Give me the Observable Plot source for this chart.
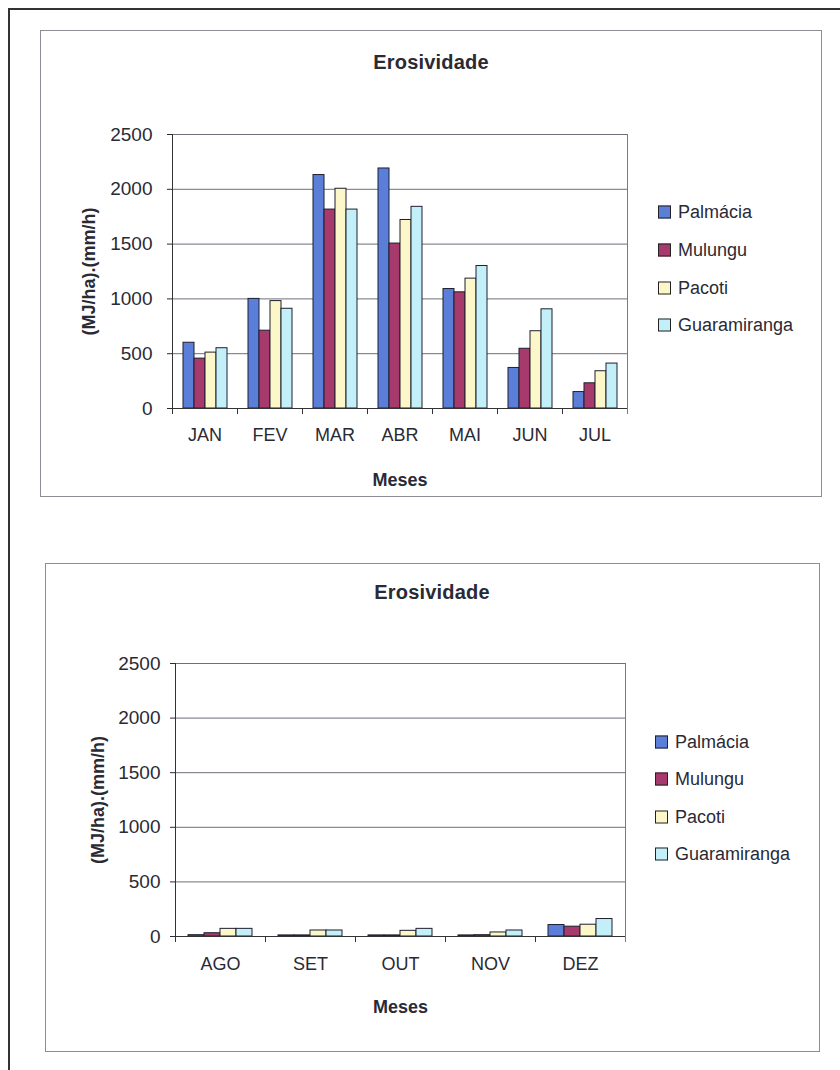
<!DOCTYPE html>
<html><head><meta charset="utf-8">
<script src="https://cdn.jsdelivr.net/npm/d3@7"></script>
<script src="https://cdn.jsdelivr.net/npm/@observablehq/plot@0.6"></script>
<style>
body{margin:0;background:#fff;}
#page{position:relative;width:840px;height:1070px;overflow:hidden;font-family:"Liberation Sans",Arial,sans-serif;color:#2a2a35;}
.outer{position:absolute;left:8px;top:8px;width:840px;height:1070px;border-left:2px solid #333;border-top:2px solid #333;}
.box{position:absolute;border:1px solid #8d8d95;box-sizing:border-box;background:#fff;}
.title{position:absolute;font-weight:bold;font-size:20px;transform:translate(-50%,-50%);white-space:nowrap;letter-spacing:0.2px;}
.legend{position:absolute;font-size:18px;}
.legend .row{position:absolute;left:0;display:flex;align-items:center;white-space:nowrap;transform:translateY(-50%);}
.legend .sw{width:11px;height:11px;border:1px solid #222;margin-right:7px;}
.plotwrap{position:absolute;}
g[aria-label="fx-axis label"], g[aria-label="y-axis label"]{font-weight:bold;font-size:18px;}
g[aria-label="y-axis tick label"]{font-size:19px;}
</style>
</head><body>
<div id="page"></div>
<script>
// ---- data ----
const series = ["Palmácia", "Mulungu", "Pacoti", "Guaramiranga"];
const colors = ["#5b7fd8", "#a63a6c", "#fcf7c9", "#c3f0f8"];
const yTicks = [0, 500, 1000, 1500, 2000, 2500];

const months1 = ["JAN", "FEV", "MAR", "ABR", "MAI", "JUN", "JUL"];
const palmacia1     = [600, 1000, 2130, 2190, 1090, 370, 150];
const mulungu1      = [455,  710, 1815, 1505, 1060, 545, 230];
const pacoti1       = [510,  980, 2005, 1720, 1185, 705, 340];
const guaramiranga1 = [550,  910, 1815, 1840, 1300, 905, 410];

const months2 = ["AGO", "SET", "OUT", "NOV", "DEZ"];
const palmacia2     = [12, 10, 10, 10, 105];
const mulungu2      = [30, 10, 10, 12,  90];
const pacoti2       = [70, 55, 52, 37, 108];
const guaramiranga2 = [70, 55, 70, 55, 160];

const chartTitle = "Erosividade";
const yLabel = "(MJ/ha).(mm/h)";
const xLabel = "Meses";

// ---- helpers ----
const page = document.getElementById("page");
function el(tag, cls, css, parent) {
  const e = document.createElement(tag);
  if (cls) e.className = cls;
  Object.assign(e.style, css || {});
  (parent || page).appendChild(e);
  return e;
}

function buildData(months, cols) {
  const rows = [];
  months.forEach((m, i) => series.forEach((s, j) => rows.push({month: m, series: s, value: cols[j][i]})));
  return rows;
}

function chart(months, cols, L) {
  const data = buildData(months, cols);
  const plotH = L.height - L.mt - L.mb;
  return Plot.plot({
    width: L.width, height: L.height,
    marginLeft: L.ml, marginRight: L.mr, marginTop: L.mt, marginBottom: L.mb,
    style: {fontFamily: '"Liberation Sans", Arial, sans-serif', fontSize: "18px", color: "#2a2a35", background: "transparent", overflow: "visible"},
    fx: {domain: months, padding: 0},
    x: {domain: series, paddingInner: 0, paddingOuter: 0.75, axis: null},
    y: {domain: [0, 2500], axis: null},
    color: {domain: series, range: colors},
    marks: [
      Plot.gridY(yTicks, {stroke: "#6e6e7c", strokeOpacity: 1}),
      Plot.frame({anchor: "right", facetAnchor: "right", stroke: "#7a7a86", insetBottom: -5}),
      Plot.frame({anchor: "left", insetTop: plotH, insetBottom: -5, stroke: "#333"}),
      Plot.barY(data, {fx: "month", x: "series", y: "value", fill: "series", stroke: "#1e1e2e", strokeWidth: 1}),
      Plot.ruleY([0], {stroke: "#333"}),
      Plot.frame({anchor: "left", facetAnchor: "left", stroke: "#333"}),
      Plot.axisY({ticks: yTicks, tickFormat: d => String(d), tickSize: 5, tickPadding: L.yPad,
        label: yLabel, labelAnchor: "center", labelArrow: "none", labelOffset: L.yLabelOffset}),
      Plot.axisFx({anchor: "bottom", tickSize: 0, tickPadding: L.fxPad, label: xLabel, labelAnchor: "center",
        labelArrow: "none", labelOffset: L.xLabelOffset})
    ]
  });
}

function legend(x, ys) {
  const lg = el("div", "legend", {left: x + "px", top: "0px"});
  series.forEach((s, i) => {
    const r = el("div", "row", {top: ys[i] + "px"}, lg);
    el("span", "sw", {background: colors[i]}, r);
    const t = el("span", "", {}, r);
    t.textContent = s;
  });
}

// ---- layout ----
el("div", "outer", {});

// top chart
el("div", "box", {left: "40px", top: "30px", width: "782px", height: "467px"});
const t1 = el("div", "title", {left: "431px", top: "62px"}); t1.textContent = chartTitle;
const w1 = el("div", "plotwrap", {left: "60px", top: "110px"});
w1.appendChild(chart(months1, [palmacia1, mulungu1, pacoti1, guaramiranga1],
  {width: 580, height: 385, ml: 110, mr: 11, mt: 24, mb: 87, fxPad: 20, xLabelOffset: 77, yLabelOffset: 90, yPad: 15}));
legend(658, [212, 250, 288, 325]);

// bottom chart
el("div", "box", {left: "45px", top: "563px", width: "775px", height: "489px"});
const t2 = el("div", "title", {left: "432px", top: "592px"}); t2.textContent = chartTitle;
const w2 = el("div", "plotwrap", {left: "65px", top: "640px"});
w2.appendChild(chart(months2, [palmacia2, mulungu2, pacoti2, guaramiranga2],
  {width: 575, height: 383, ml: 110, mr: 15, mt: 23, mb: 87, fxPad: 21, xLabelOffset: 76, yLabelOffset: 84, yPad: 10}));
legend(655, [742, 779, 817, 854]);
</script>
</body></html>
